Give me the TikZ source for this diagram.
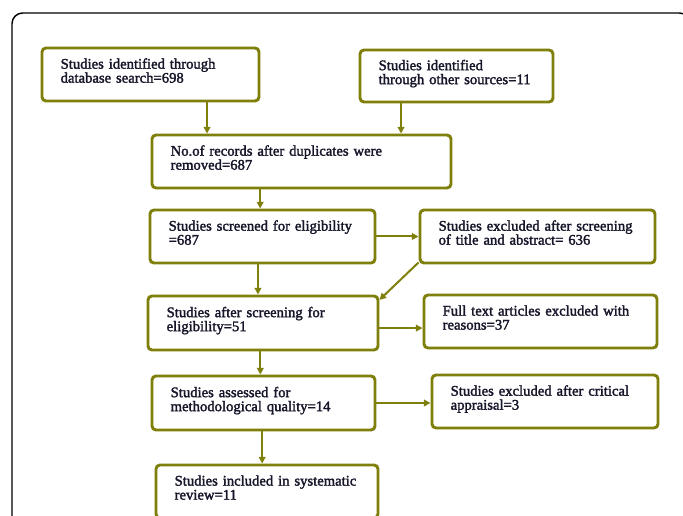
\documentclass[tikz,border=0pt]{standalone}
\usepackage{fontspec}
\newfontfamily\boxfont{Liberation Serif}[FakeBold=2]
\usetikzlibrary{arrows.meta}
\definecolor{olivebd}{HTML}{7F7F0C}
\definecolor{boxtext}{HTML}{16162A}
\begin{document}
\begin{tikzpicture}[x=0.75pt, y=-0.75pt,
		box/.style = {draw=olivebd, line width=2.2pt, rounded corners=3pt, align=left, inner xsep=14pt, inner ysep=2pt, minimum height=39.75pt, text=boxtext, font={\boxfont\fontsize{11}{10.5}\selectfont}, execute at end node={\\[-4.5pt]\mbox{}}},
		arr/.style = {draw=olivebd, line width=1.5pt, -{Triangle[length=5pt, width=5pt]}}]
		\useasboundingbox (0,0) rectangle (683,516);
		\draw[line width=1.1pt, rounded corners=8pt] (12,13) rectangle (690,540);
		
		\node[box, text width=134.75pt] (1) at (150.5,74.5) {Studies identified through\\database search=698};
		\node[box, text width=116.75pt, minimum height=39pt] (2) at (456.5,76) {Studies identified\\through other sources=11};
		\node[box, text width=196.25pt] (3) at (301.5,161.5) {No.of records after duplicates were\\removed=687};
		\node[box, text width=140.75pt] (4) at (262.5,236.5) {Studies screened for eligibility\\=687};
		\node[box, text width=148.25pt] (5) at (537.5,236.5) {Studies excluded after screening\\of title and abstract= 636};
		\node[box, text width=144.5pt, minimum height=40.5pt] (6) at (263,323) {Studies after screening for\\eligibility=51};
		\node[box, text width=146.75pt] (7) at (540.5,321.5) {Full text articles excluded with\\reasons=37};
		\node[box, text width=139.25pt, minimum height=40.5pt] (8) at (263.5,403) {Studies assessed for\\methodological quality=14};
		\node[box, text width=141.5pt] (9) at (545,401.5) {Studies excluded after critical\\appraisal=3};
		\node[box, text width=138.5pt] (10) at (267,491.5) {Studies included in systematic\\review=11};
		
		\draw[arr] ([xshift=42.4pt]1.south) -- ([xshift=42.4pt]1.south |- 3.north);
		\draw[arr] ([xshift=-41.6pt]2.south) -- ([xshift=-41.6pt]2.south |- 3.north);
		\draw[arr] ([xshift=-31pt]3.south) -- ([xshift=-31pt]3.south |- 4.north);
		\draw[arr] (4.east) -- (5.west);
		\draw[arr] ([yshift=1.5pt]5.south west) -- ([yshift=-4pt]6.north east);
		\draw[arr] ([xshift=-3.4pt]4.south) -- ([xshift=-3.4pt]4.south |- 6.north);
		\draw[arr] ([yshift=-3.8pt]6.east) -- ([yshift=-3.8pt]6.east -| 7.west);
		\draw[arr] ([xshift=-2pt]6.south) -- ([xshift=-2pt]6.south |- 8.north);
		\draw[arr] (8.east) -- (8.east -| 9.west);
		\draw[arr] ([xshift=-1pt]8.south) -- ([xshift=-1pt]8.south |- 10.north);
		
	\end{tikzpicture}
\end{document}
